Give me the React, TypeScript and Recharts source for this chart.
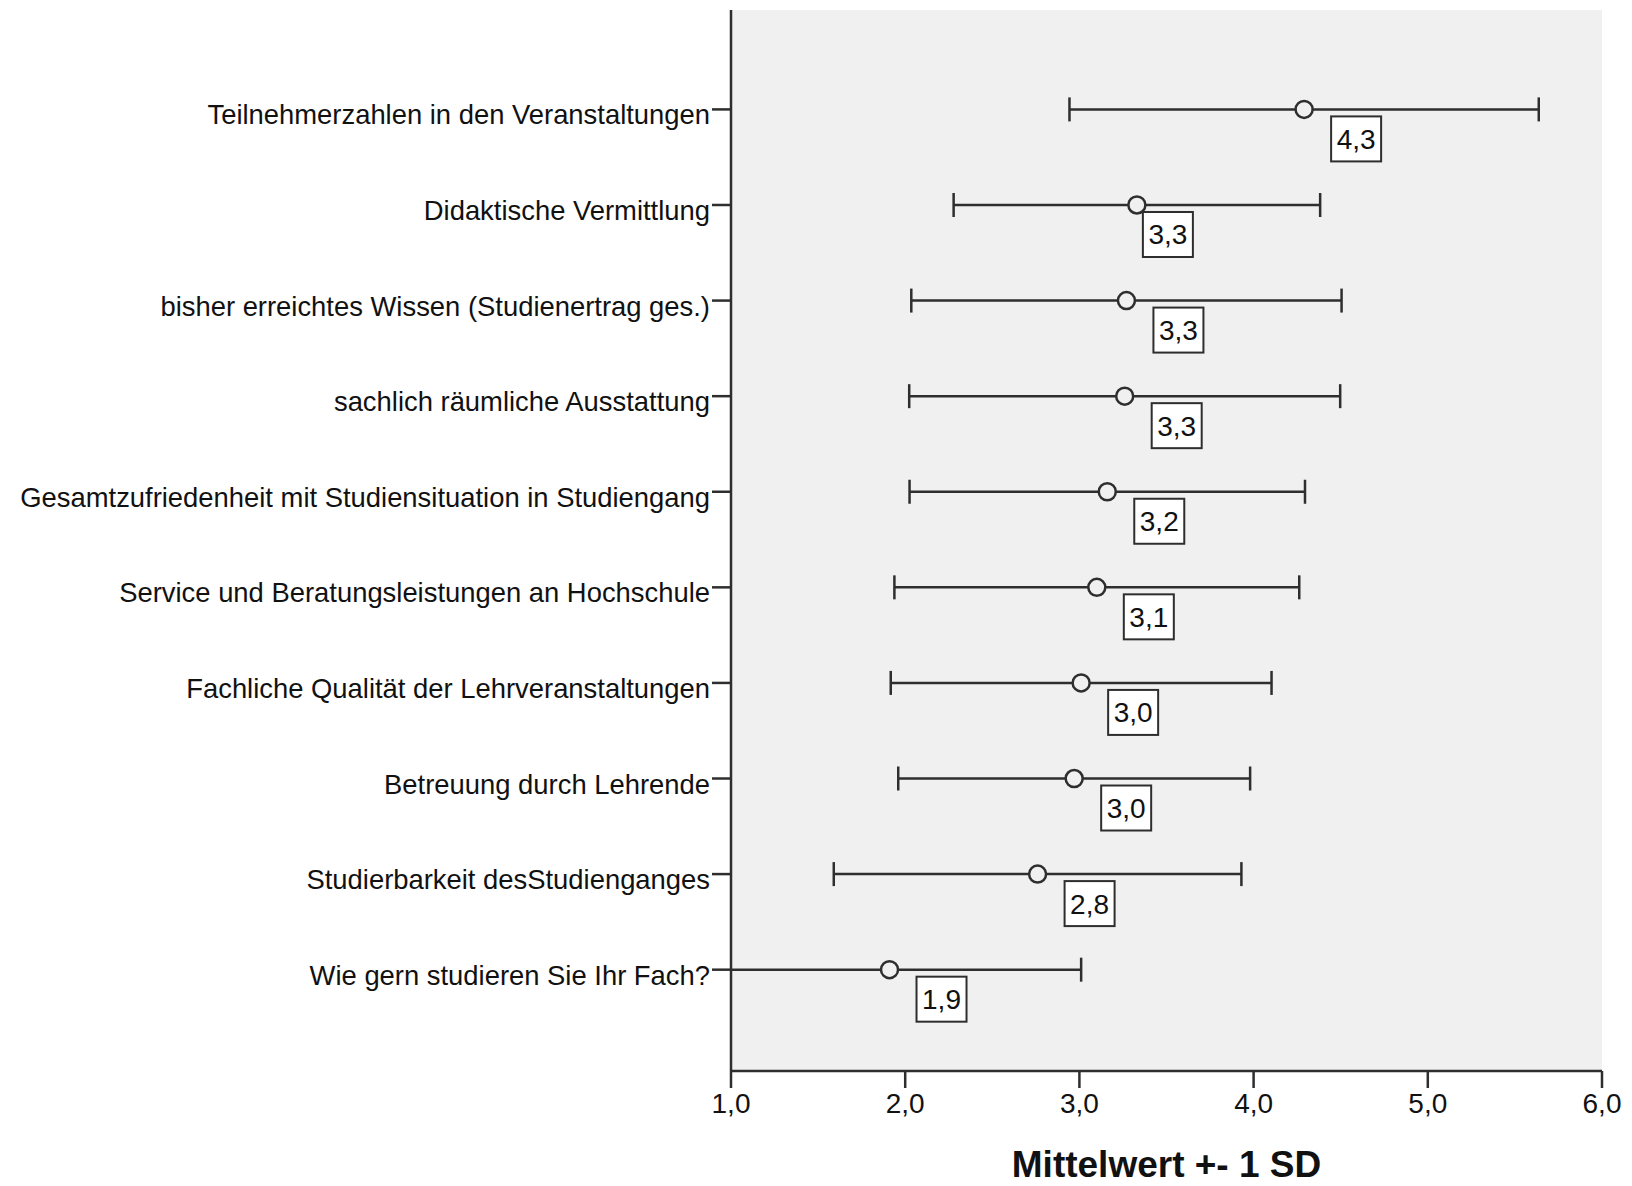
import React from 'react';
import { ScatterChart, Scatter, XAxis, YAxis, CartesianGrid } from 'recharts';

const categories = [
  'Teilnehmerzahlen in den Veranstaltungen',
  'Didaktische Vermittlung',
  'bisher erreichtes Wissen (Studienertrag ges.)',
  'sachlich räumliche Ausstattung',
  'Gesamtzufriedenheit mit Studiensituation in Studiengang',
  'Service und Beratungsleistungen an Hochschule',
  'Fachliche Qualität der Lehrveranstaltungen',
  'Betreuung durch Lehrende',
  'Studierbarkeit desStudienganges',
  'Wie gern studieren Sie Ihr Fach?',
];
const means = [4.29, 3.33, 3.27, 3.26, 3.16, 3.1, 3.01, 2.97, 2.76, 1.91];
const sds = [1.347, 1.052, 1.235, 1.237, 1.135, 1.162, 1.093, 1.01, 1.17, 1.1];
const xTicks = [1, 2, 3, 4, 5, 6];
const xTitle = 'Mittelwert +- 1 SD';

const FONT = '"Liberation Sans", Arial, sans-serif';
const LINE = '#2e2e2e';
const BG = '#f0f0f0';

const positions = categories.map((_, i) => i + 1);
const meanData = categories.map((c, i) => ({ x: means[i], y: positions[i], idx: i }));
const barData = categories.map((c, i) => [
  { x: means[i] - sds[i], y: positions[i] },
  { x: means[i] + sds[i], y: positions[i] },
]);

const fmt = (v: number) => v.toFixed(1).replace('.', ',');

const Cap = (props: any) => {
  const { cx, cy } = props;
  return <line x1={cx} x2={cx} y1={cy - 12} y2={cy + 12} stroke={LINE} strokeWidth={2.5} />;
};

const MeanMark = (props: any) => {
  const { cx, cy, payload } = props;
  const i = payload.idx;
  const dx = i === 1 ? 6 : 27;
  const bx = cx + dx;
  const by = cy + 7;
  return (
    <g>
      <circle cx={cx} cy={cy} r={8.5} fill={BG} stroke={LINE} strokeWidth={2.5} />
      <rect x={bx} y={by} width={50} height={45} fill="#ffffff" stroke={LINE} strokeWidth={2} />
      <text
        x={bx + 25}
        y={by + 32.5}
        textAnchor="middle"
        fontFamily={FONT}
        fontSize={28}
        fill="#111"
      >
        {fmt(means[i])}
      </text>
    </g>
  );
};

const YTick = (props: any) => {
  const { x, y, payload } = props;
  const label = categories[payload.value - 1] ?? '';
  return (
    <text x={x} y={y + 15} textAnchor="end" fontFamily={FONT} fontSize={27.4} fill="#111">
      {label}
    </text>
  );
};

export default function App() {
  return (
    <div style={{ width: 1616, height: 1176, background: '#fff' }}>
      <ScatterChart
        width={1616}
        height={1176}
        margin={{ top: 2, right: 22, left: 0, bottom: 0 }}
      >
        <CartesianGrid fill={BG} horizontal={false} vertical={false} />
        <XAxis
          dataKey="x"
          type="number"
          domain={[1, 6]}
          ticks={xTicks}
          allowDataOverflow
          height={113}
          tickFormatter={(v: number) => fmt(v)}
          tick={{ fontFamily: FONT, fontSize: 28, fill: '#111' }}
          tickSize={17}
          tickMargin={5}
          tickLine={{ stroke: LINE, strokeWidth: 2.5 }}
          axisLine={{ stroke: LINE, strokeWidth: 2.5 }}
          label={{
            value: xTitle,
            position: 'insideBottom',
            offset: 7,
            style: { fontFamily: FONT, fontSize: 37, fontWeight: 'bold', fill: '#111' },
          }}
        />
        <XAxis
          xAxisId="top"
          orientation="top"
          type="number"
          domain={[1, 6]}
          height={0}
          tick={false}
          tickLine={false}
          axisLine={{ stroke: LINE, strokeWidth: 2.5 }}
        />
        <YAxis
          dataKey="y"
          type="number"
          domain={[-0.04, 11.06]}
          reversed
          ticks={positions}
          allowDataOverflow
          interval={0}
          width={723}
          tick={<YTick />}
          tickSize={19}
          tickMargin={2}
          tickLine={{ stroke: LINE, strokeWidth: 2.5 }}
          axisLine={{ stroke: LINE, strokeWidth: 2.5 }}
        />
        <YAxis
          yAxisId="right"
          orientation="right"
          type="number"
          domain={[0, 11]}
          width={0}
          tick={false}
          tickLine={false}
          axisLine={{ stroke: LINE, strokeWidth: 2.5 }}
        />
        {barData.map((d, i) => (
          <Scatter
            key={i}
            data={d}
            line={{ stroke: LINE, strokeWidth: 2.5 }}
            shape={<Cap />}
            isAnimationActive={false}
          />
        ))}
        <Scatter data={meanData} shape={<MeanMark />} isAnimationActive={false} />
      </ScatterChart>
    </div>
  );
}
